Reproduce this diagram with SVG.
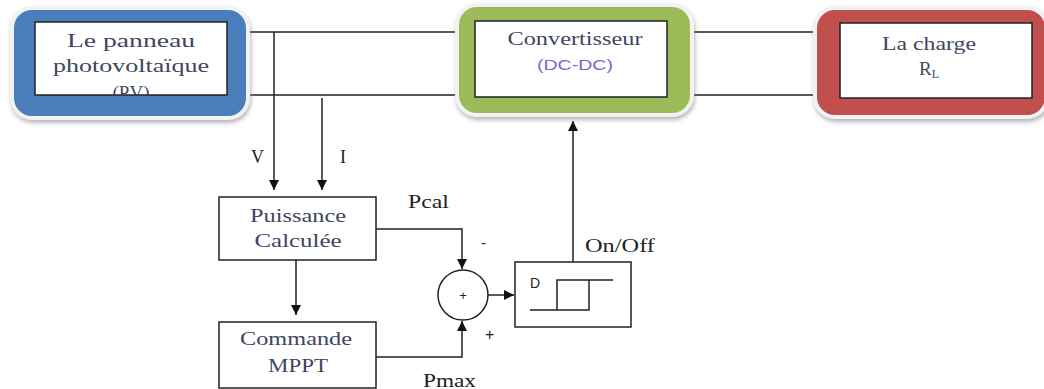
<svg xmlns="http://www.w3.org/2000/svg" width="1044" height="389" viewBox="0 0 1044 389">
<defs>
<style>
.t{font-family:"Liberation Serif","Times New Roman",serif;font-size:19px;fill:#3f4660;}
.k{font-family:"Liberation Serif","Times New Roman",serif;font-size:18px;fill:#222;}
.s{font-family:"Liberation Sans",Arial,sans-serif;fill:#222;}
.w{stroke:#222;stroke-width:1.5;fill:none;}
.box{fill:#fff;stroke:#222;stroke-width:1.5;}
.outer{stroke:#f2f2f2;stroke-width:4;}
</style>
<filter id="sh" x="-10%" y="-10%" width="120%" height="130%">
<feDropShadow dx="1" dy="3" stdDeviation="2" flood-color="#888" flood-opacity="0.6"/>
</filter>
<marker id="ar" viewBox="0 0 10 10" refX="10" refY="5" markerWidth="10" markerHeight="10" markerUnits="userSpaceOnUse" orient="auto">
<path d="M0,0 L10,5 L0,10 Z" fill="#111"/>
</marker>
<clipPath id="pvclip"><rect x="35" y="22" width="192" height="73"/></clipPath>
</defs>

<g id="connectors">
<path class="w" d="M247,32 H459 M247,95 H459 M690,32 H817 M690,95 H817"/>
<path class="w" d="M274,32 V190" marker-end="url(#ar)"/>
<path class="w" d="M322,98 V190" marker-end="url(#ar)"/>
<path class="w" d="M296,260 V315" marker-end="url(#ar)"/>
<path class="w" d="M376,229 H462 V269" marker-end="url(#ar)"/>
<path class="w" d="M376,357 H462 V321" marker-end="url(#ar)"/>
<path class="w" d="M488,295 H514" marker-end="url(#ar)"/>
<path class="w" d="M573,262 V121" marker-end="url(#ar)"/>
</g>

<g id="pv">
<rect class="outer" x="12" y="8" width="236" height="110" rx="20" fill="#4a7ebb" filter="url(#sh)"/>
<rect class="box" x="35" y="22" width="192" height="73"/>
<text class="t" x="131" y="47" text-anchor="middle" textLength="128" lengthAdjust="spacingAndGlyphs">Le panneau</text>
<text class="t" x="131" y="72" text-anchor="middle" textLength="156" lengthAdjust="spacingAndGlyphs">photovoltaïque</text>
<text class="t" x="131" y="99" text-anchor="middle" clip-path="url(#pvclip)">(PV)</text>
</g>

<g id="convertisseur">
<rect class="outer" x="457" y="5" width="235" height="110" rx="20" fill="#9bbb59" filter="url(#sh)"/>
<rect class="box" x="475" y="21" width="192" height="76"/>
<text class="t" x="575" y="45" text-anchor="middle" textLength="135" lengthAdjust="spacingAndGlyphs">Convertisseur</text>
<text class="s" x="575" y="70" text-anchor="middle" font-size="15" fill="#6a6ad0" style="fill:#6a6ad0" textLength="76" lengthAdjust="spacingAndGlyphs">(DC-DC)</text>
</g>

<g id="charge">
<rect class="outer" x="815" y="8" width="232" height="109" rx="20" fill="#c0504d" filter="url(#sh)"/>
<rect class="box" x="840" y="23" width="192" height="75"/>
<text class="t" x="929" y="50" text-anchor="middle" textLength="94" lengthAdjust="spacingAndGlyphs">La charge</text>
<text class="t" x="919" y="75">R<tspan font-size="12" dy="3">L</tspan></text>
</g>

<g id="labels-vi">
<text class="k" x="251" y="163">V</text>
<text class="k" x="340" y="163">I</text>
</g>

<g id="puissance">
<rect class="box" x="219" y="197" width="157" height="63"/>
<text class="t" x="298" y="222" text-anchor="middle" textLength="96" lengthAdjust="spacingAndGlyphs">Puissance</text>
<text class="t" x="298" y="247" text-anchor="middle" textLength="87" lengthAdjust="spacingAndGlyphs">Calculée</text>
</g>

<g id="commande">
<rect class="box" x="219" y="322" width="157" height="66"/>
<text class="t" x="296" y="345" text-anchor="middle" textLength="112" lengthAdjust="spacingAndGlyphs">Commande</text>
<text class="t" x="298" y="372" text-anchor="middle" textLength="60" lengthAdjust="spacingAndGlyphs">MPPT</text>
</g>

<g id="sommateur">
<circle cx="463" cy="295" r="25" fill="#fff" stroke="#222" stroke-width="1.5"/>
<text class="s" x="463" y="300" text-anchor="middle" font-size="13">+</text>
<text class="s" x="481" y="248" font-size="15">-</text>
<text class="s" x="485" y="340" font-size="16">+</text>
</g>

<g id="hysteresis">
<rect class="box" x="515" y="262" width="116" height="65"/>
<text class="s" x="530" y="288" font-size="14">D</text>
<path class="w" d="M530,310 H589 V280 M557,310 V280 H613"/>
</g>

<g id="signal-labels">
<text class="k" x="408" y="208" textLength="41" lengthAdjust="spacingAndGlyphs">Pcal</text>
<text class="k" x="585" y="252" textLength="70" lengthAdjust="spacingAndGlyphs">On/Off</text>
<text class="k" x="423" y="387" textLength="53" lengthAdjust="spacingAndGlyphs">Pmax</text>
</g>
</svg>
